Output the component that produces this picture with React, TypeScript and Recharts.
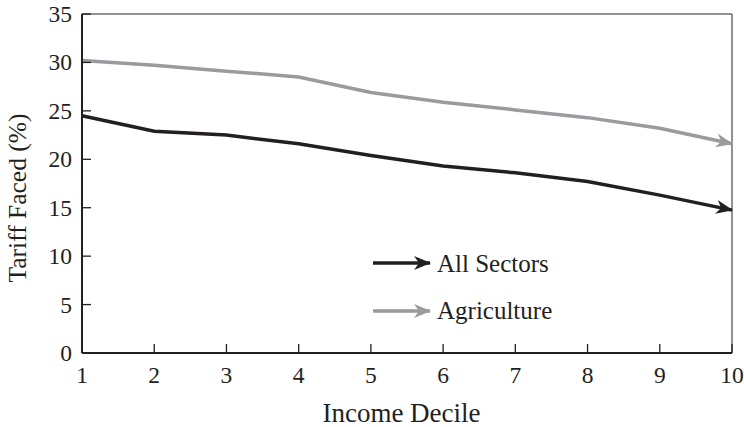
import React from 'react';
import { LineChart, Line, XAxis, YAxis, ReferenceLine, Legend, Customized } from 'recharts';

const deciles = [1, 2, 3, 4, 5, 6, 7, 8, 9, 10];
const allSectors = [24.5, 22.9, 22.5, 21.6, 20.4, 19.3, 18.6, 17.7, 16.3, 14.75];
const agriculture = [30.2, 29.7, 29.1, 28.5, 26.9, 25.9, 25.1, 24.3, 23.2, 21.6];
const yTicks = [0, 5, 10, 15, 20, 25, 30, 35];
const seriesNames = ['All Sectors', 'Agriculture'];
const xTitle = 'Income Decile';
const yTitle = 'Tariff Faced (%)';

const BLACK = '#231f20';
const GRAY = '#9a9a9f';
const FRAME = '#6d6e71';
const FONT = '"Liberation Serif", "Times New Roman", serif';
const TICK_SIZE = 23.5;

const data = deciles.map((d, i) => ({ decile: d, all: allSectors[i], agri: agriculture[i] }));

const seriesColors = [BLACK, GRAY];
const markerIds = ['arrowBlack', 'arrowGray'];

const XTick = (props: any) => {
  const { x, y, payload } = props;
  return (
    <text x={x} y={y} dy={16.5} textAnchor="middle" fontSize={TICK_SIZE} fontFamily={FONT} fill={BLACK}>
      {payload.value}
    </text>
  );
};

const YTick = (props: any) => {
  const { x, y, payload } = props;
  return (
    <text x={x} y={y} dy={8} textAnchor="end" fontSize={TICK_SIZE} fontFamily={FONT} fill={BLACK}>
      {payload.value}
    </text>
  );
};

const Titles = () => (
  <g fontFamily={FONT} fill={BLACK}>
    <text x={401.5} y={422} textAnchor="middle" fontSize={27} fill={BLACK}>{xTitle}</text>
    <text x={26} y={198} textAnchor="middle" fontSize={25.5} fill={BLACK} transform="rotate(-90, 26, 198)">{yTitle}</text>
  </g>
);

const LegendContent = () => (
  <svg width={240} height={90} style={{ overflow: 'visible' }}>
    {seriesNames.map((name, i) => (
      <g key={name}>
        <line x1={5} y1={18 + i * 48} x2={62} y2={18 + i * 48} stroke={seriesColors[i]} strokeWidth={3.5} markerEnd={`url(#${markerIds[i]})`} />
        <text x={69} y={26.5 + i * 47.5} fontSize={25} fontFamily={FONT} fill={BLACK}>{name}</text>
      </g>
    ))}
  </svg>
);

export default function App() {
  return (
    <div style={{ position: 'absolute', left: 0, top: 0, width: 744, height: 427, background: '#fff' }}>
      <svg width={0} height={0} style={{ position: 'absolute' }}>
        <defs>
          {markerIds.map((id, i) => (
            <marker key={id} id={id} viewBox="0 0 17 14" refX={16} refY={7} markerWidth={17} markerHeight={14} markerUnits="userSpaceOnUse" orient="auto">
              <path d="M0,0 L17,7 L0,14 L5,7 Z" fill={seriesColors[i]} />
            </marker>
          ))}
        </defs>
      </svg>
      <LineChart width={744} height={427} data={data} margin={{ top: 14, right: 12, bottom: 34, left: 22 }} style={{ fontFamily: FONT }}>
        <XAxis
          dataKey="decile"
          type="number"
          domain={[1, 10]}
          ticks={deciles}
          interval={0}
          height={40}
          tickSize={-9}
          tickMargin={22.5}
          axisLine={{ stroke: BLACK, strokeWidth: 2 }}
          tickLine={{ stroke: BLACK, strokeWidth: 1.3 }}
          tick={<XTick />}
        />
        <YAxis
          type="number"
          domain={[0, 35]}
          ticks={yTicks}
          interval={0}
          width={60}
          tickSize={-9}
          tickMargin={19}
          axisLine={{ stroke: BLACK, strokeWidth: 2 }}
          tickLine={{ stroke: BLACK, strokeWidth: 1.3 }}
          tick={<YTick />}
        />
        <ReferenceLine y={35} stroke={FRAME} strokeWidth={1.5} />
        <ReferenceLine x={10} stroke={FRAME} strokeWidth={1.5} />
        <Line type="linear" dataKey="agri" stroke={GRAY} strokeWidth={3.5} dot={false} activeDot={false} isAnimationActive={false} markerEnd="url(#arrowGray)" />
        <Line type="linear" dataKey="all" stroke={BLACK} strokeWidth={3.5} dot={false} activeDot={false} isAnimationActive={false} markerEnd="url(#arrowBlack)" />
        <Legend
          layout="vertical"
          align="center"
          verticalAlign="middle"
          content={LegendContent}
          wrapperStyle={{ position: 'absolute', left: 368, top: 245, width: 240, height: 90 }}
        />
        <Customized component={Titles} />
      </LineChart>
    </div>
  );
}
